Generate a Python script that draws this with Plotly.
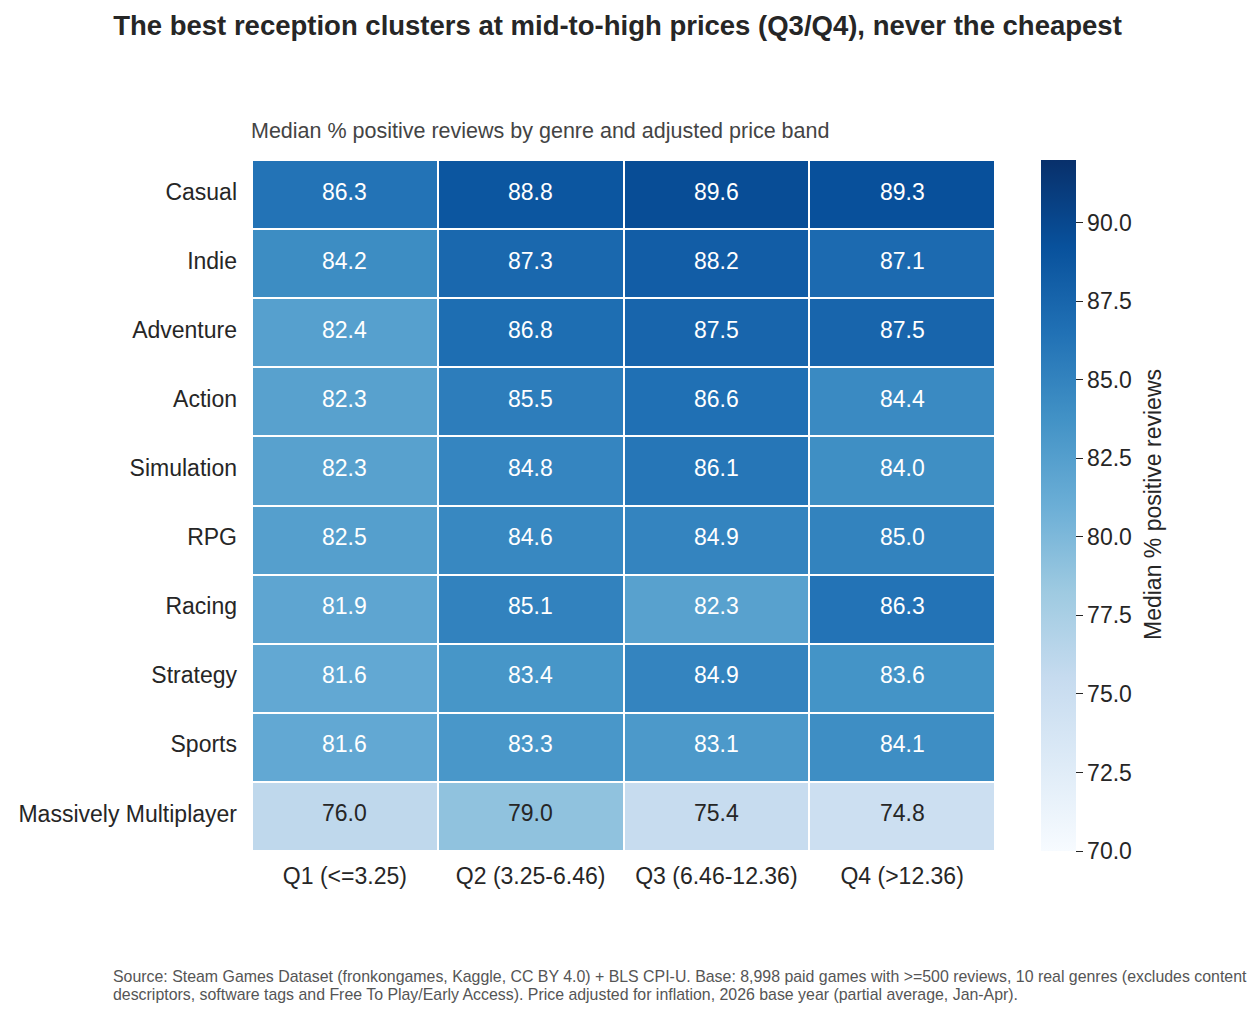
import plotly.graph_objects as go

genres = ["Casual", "Indie", "Adventure", "Action", "Simulation", "RPG",
          "Racing", "Strategy", "Sports", "Massively Multiplayer"]
price_bands = ["Q1 (<=3.25)", "Q2 (3.25-6.46)", "Q3 (6.46-12.36)", "Q4 (>12.36)"]

q1 = [86.3, 84.2, 82.4, 82.3, 82.3, 82.5, 81.9, 81.6, 81.6, 76.0]
q2 = [88.8, 87.3, 86.8, 85.5, 84.8, 84.6, 85.1, 83.4, 83.3, 79.0]
q3 = [89.6, 88.2, 87.5, 86.6, 86.1, 84.9, 82.3, 84.9, 83.1, 75.4]
q4 = [89.3, 87.1, 87.5, 84.4, 84.0, 85.0, 86.3, 83.6, 84.1, 74.8]

cbar_ticks = [70.0, 72.5, 75.0, 77.5, 80.0, 82.5, 85.0, 87.5, 90.0]

# matplotlib "Blues"
blues = ["#f7fbff", "#deebf7", "#c6dbef", "#9ecae1", "#6baed6",
         "#4292c6", "#2171b5", "#08519c", "#08306b"]
colorscale = [[i / (len(blues) - 1), c] for i, c in enumerate(blues)]

FONT = "Liberation Sans, Arial, sans-serif"
DARK = "#262626"
W, H = 1260, 1019
OFF = 8  # page body margin of the browser
L, T = 252, 160          # plot area, in window pixels
pw, ph = 743, 691

z = [list(row) for row in zip(q1, q2, q3, q4)]

fig = go.Figure(go.Heatmap(
    z=z, x=price_bands, y=genres,
    zmin=70, zmax=92,
    colorscale=colorscale,
    xgap=2, ygap=2,
    hovertemplate="%{y}<br>%{x}<br>%{z:.1f}%<extra></extra>",
    colorbar=dict(
        x=(1041 - L) / pw, xanchor="left", xpad=0,
        y=0, yanchor="bottom", ypad=0, len=1, lenmode="fraction",
        thickness=35, outlinewidth=0,
        tickmode="array", tickvals=cbar_ticks,
        ticktext=[f"{v:.1f}" for v in cbar_ticks],
        ticks="outside", ticklen=7, tickwidth=1.2, tickcolor=DARK,
        tickfont=dict(family=FONT, size=23, color=DARK),
    ),
))

# cell labels: white on dark cells, dark on light ones
annotations = []
for i, g in enumerate(genres):
    for j, b in enumerate(price_bands):
        v = z[i][j]
        annotations.append(dict(
            x=b, y=g, xref="x", yref="y", text=f"{v:.1f}", showarrow=False,
            yshift=3,
            font=dict(family=FONT, size=23, color="white" if v >= 80 else DARK),
        ))

# colorbar title
annotations.append(dict(
    text="Median % positive reviews", textangle=-90,
    xref="paper", yref="paper", x=(1153 - L) / pw, y=(T + ph - 505) / ph,
    xanchor="center", yanchor="middle", showarrow=False,
    font=dict(family=FONT, size=23, color=DARK),
))

annotations.append(dict(
    text="Median % positive reviews by genre and adjusted price band",
    xref="paper", yref="paper", x=-3 / pw, y=1 + (T - 131) / ph,
    xanchor="left", yanchor="middle", showarrow=False,
    font=dict(family=FONT, size=21.5, color="#444444"),
))

footer = [
    ("Source: Steam Games Dataset (fronkongames, Kaggle, CC BY 4.0) + BLS CPI-U. "
     "Base: 8,998 paid games with >=500 reviews, 10 real genres (excludes content", 976),
    ("descriptors, software tags and Free To Play/Early Access). "
     "Price adjusted for inflation, 2026 base year (partial average, Jan-Apr).", 994),
]
for line, ypx in footer:
    annotations.append(dict(
        text=line, xref="paper", yref="paper",
        x=(111 - L) / pw, y=-(ypx - (T + ph)) / ph,
        xanchor="left", yanchor="middle", align="left", showarrow=False,
        font=dict(family=FONT, size=15.9, color="#555555"),
    ))

fig.update_layout(
    width=W, height=H,
    margin=dict(l=L - OFF, r=W - (L - OFF) - pw, t=T - OFF, b=H - (T - OFF) - ph,
                autoexpand=False),
    paper_bgcolor="white", plot_bgcolor="white",
    font=dict(family=FONT, color=DARK),
    title=dict(
        text="<b>The best reception clusters at mid-to-high prices (Q3/Q4), never the cheapest</b>",
        x=(617.5 - OFF) / W, xanchor="center", y=1 - (25 - OFF) / H, yanchor="middle",
        font=dict(family=FONT, size=27.5, color=DARK),
    ),
    xaxis=dict(showgrid=False, zeroline=False, showline=False, ticks="",
               tickfont=dict(family=FONT, size=23, color=DARK),
               ticklabelstandoff=9),
    yaxis=dict(showgrid=False, zeroline=False, showline=False, ticks="",
               autorange="reversed",
               tickfont=dict(family=FONT, size=23, color=DARK),
               ticklabelstandoff=14, ticklabelshift=3),
    annotations=annotations,
)

fig.write_html("out.html")
